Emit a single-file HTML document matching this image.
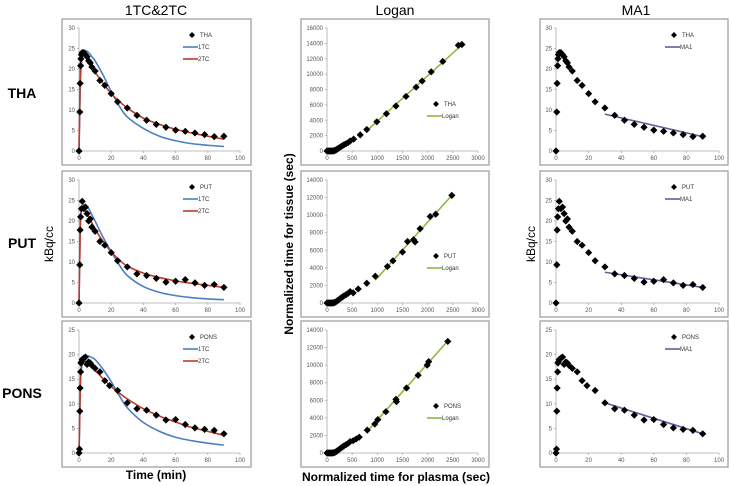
<!DOCTYPE html>
<html><head><meta charset="utf-8"><style>
body{margin:0;background:#fff}
svg{display:block;font-family:"Liberation Sans",sans-serif}
</style></head><body>
<svg id="fig" width="730" height="486" viewBox="0 0 730 486">
<text x="156" y="15" font-size="14" text-anchor="middle">1TC&amp;2TC</text>
<text x="395" y="15" font-size="14" text-anchor="middle">Logan</text>
<text x="636" y="15" font-size="14" text-anchor="middle">MA1</text>
<text x="22" y="98" font-size="14" font-weight="bold" text-anchor="middle">THA</text>
<text x="22" y="248" font-size="14" font-weight="bold" text-anchor="middle">PUT</text>
<text x="22" y="398" font-size="14" font-weight="bold" text-anchor="middle">PONS</text>
<text transform="translate(53,244) rotate(-90)" font-size="12" text-anchor="middle">kBq/cc</text>
<text transform="translate(535,244) rotate(-90)" font-size="12" text-anchor="middle">kBq/cc</text>
<text transform="translate(293,244) rotate(-90)" font-size="12" font-weight="bold" text-anchor="middle">Normalized time for tissue (sec)</text>
<text x="156" y="479" font-size="12" font-weight="bold" text-anchor="middle">Time (min)</text>
<text x="396" y="481" font-size="12" font-weight="bold" text-anchor="middle">Normalized time for plasma (sec)</text>
</svg>
<script>
// ---- data ----
const regions = ["THA","PUT","PONS"];
const timeTicks = [0,20,40,60,80,100];
const loganXTicks = [0,500,1000,1500,2000,2500,3000];
const tacYMax = [30,30,25];
const loganYMax = [16000,14000,14000];

const thaT = [0,0.5,0.7,1,1.2,1.5,2,3,4,5,6,7,8,10,13,16,20,24,30,36,42,48,54,60,66,72,78,84,90];
const thaV = [0,9.5,16.5,20.8,22.5,23.5,24,24,23.5,23,22,21.5,20.5,19.5,17.2,16,14,12,10.5,8.7,7.5,6.5,5.8,5.1,4.8,4.4,4.0,3.5,3.6];
const putT = [0,0.5,0.7,1,1.5,2,3,4,5,6,7,8,10,13,16,20,24,30,36,42,48,54,60,66,72,78,84,90];
const putV = [0,9.3,17.8,21,23,24.8,23,23.4,21.8,20,20.5,18.5,17.5,15,14.1,12.3,10.3,8.8,7.1,6.7,6.0,5.1,5.3,5.7,4.9,4.3,4.5,3.8];
const ponsT = [0,0.3,0.5,0.7,1,1.2,1.5,2,3,4,5,6,7,8,10,13,16,19,24,30,36,42,48,54,60,66,72,78,84,90];
const ponsV = [0,0.8,8.5,13.2,16.5,18.3,18.5,19,19.3,19.5,18,18.5,18.3,17.8,17.2,16.5,14.7,13.7,12.7,10.2,9,8.7,7.7,6.7,6.8,5.8,5.1,4.8,4.6,3.9];

const fitT = [0,0.5,1,2,3,4,6,8,10,15,20,25,30,40,50,60,70,80,90];
const tha1TC = [0,10,18,23,24.3,24.5,24,23,22,18.5,14.5,11,8.3,5.5,3.6,2.5,1.8,1.4,1.1];
const tha2TC = [0,12,22,23.8,24,23.7,22.5,21,19.3,16.5,14,12.1,10.5,8,6.5,5.3,4.4,3.6,2.9];
const put1TC = [0,12,21,23.6,24,23.8,23,21.5,20,16,12.5,9.3,6.7,4,2.6,1.8,1.3,1.0,0.8];
const put2TC = [0,12,21,22.8,23,22.5,21,19.5,18,15,12.5,10.5,9,7.3,6.2,5.4,4.8,4.3,3.8];
const pons1TC = [0,8,15,18.3,19.2,19.6,19.7,19.4,19,17,14.5,11.7,9.2,6.2,4.4,3.2,2.5,2,1.6];
const pons2TC = [0,8,16,18.3,18.7,18.6,18.1,17.5,16.8,15.1,13.5,12.2,11,9,7.5,6.3,5.2,4.4,3.6];

const ma1T = [30,90];
const thaMA1 = [9,3.5];
const putMA1 = [7.5,3.8];
const ponsMA1 = [10.2,3.9];

const earlyX = [0,20,40,60,80,100,120,140,160,180,200,220,250,280,310,340,380,420,460];
const earlyY = [0,0,0,0,0,0,10,30,80,150,230,320,450,580,700,820,950,1100,1300];
const thaLX = [530,660,790,990,1180,1370,1570,1770,1890,2070,2300,2610,2680];
const thaLY = [1550,2100,2800,3800,4850,5850,7100,8300,9100,10300,11650,13750,13850];
const putLX = [520,620,790,960,1200,1310,1500,1600,1720,1750,1850,2050,2160,2480];
const putLY = [1150,1600,2250,3050,4150,4800,5800,7000,7200,6950,8450,9850,10100,12250];
const ponsLX = [520,580,640,800,950,1010,1170,1370,1380,1580,1810,1990,2020,2400];
const ponsLY = [1400,1600,1800,2600,3300,3800,4700,6100,5850,7400,8850,10000,10400,12700];
const thaLine = [[800,2700],[2680,13800]];
const putLine = [[960,2600],[2480,12250]];
const ponsLine = [[820,2600],[2400,12750]];

// ---- drawing ----
const NS="http://www.w3.org/2000/svg", svg=document.getElementById('fig');
const rowTops=[19,171,321];
const cols=[{px:[62,251],x0:79,x1:240},{px:[301,489],x0:327,x1:478},{px:[540,728],x0:556,x1:719}];
function mk(tag,attrs,parent){const e=document.createElementNS(NS,tag);for(const k in attrs)e.setAttribute(k,attrs[k]);(parent||svg).appendChild(e);return e;}
function axes(g,c,top,xmax,ymax,yStep,xTicks){
  const y0=top+132,y1=top+9;
  const sx=v=>c.x0+(v/xmax)*(c.x1-c.x0), sy=v=>y0-(v/ymax)*(y0-y1);
  mk('line',{x1:c.x0,y1:y0,x2:c.x1,y2:y0,stroke:'#aaa','stroke-width':0.8},g);
  mk('line',{x1:c.x0,y1:y0,x2:c.x0,y2:y1,stroke:'#aaa','stroke-width':0.8},g);
  xTicks.forEach(t=>{mk('line',{x1:sx(t),y1:y0,x2:sx(t),y2:y0+2,stroke:'#aaa','stroke-width':0.8},g);
    const tx=mk('text',{x:sx(t),y:y0+9,'font-size':6,'text-anchor':'middle',fill:'#555'},g);tx.textContent=t;});
  for(let v=0;v<=ymax;v+=yStep){mk('line',{x1:c.x0-2,y1:sy(v),x2:c.x0,y2:sy(v),stroke:'#aaa','stroke-width':0.8},g);
    const ty=mk('text',{x:c.x0-4,y:sy(v)+2,'font-size':6,'text-anchor':'end',fill:'#555'},g);ty.textContent=v;}
  return {sx,sy};
}
function pts(g,s,X,Y){X.forEach((x,i)=>{const cx=s.sx(x),cy=s.sy(Y[i]);
  const p=mk('path',{d:`M${cx} ${cy-3.6}L${cx+3.6} ${cy}L${cx} ${cy+3.6}L${cx-3.6} ${cy}Z`,fill:'#000'},g);
  
  });}
function line(g,s,X,Y,col,name){
  const P=X.map((x,i)=>[s.sx(x),s.sy(Y[i])]);
  let d=`M${P[0][0]} ${P[0][1]}`;
  for(let i=0;i<P.length-1;i++){
    const p0=P[Math.max(i-1,0)],p1=P[i],p2=P[i+1],p3=P[Math.min(i+2,P.length-1)];
    const c1=[p1[0]+(p2[0]-p0[0])/6,p1[1]+(p2[1]-p0[1])/6],c2=[p2[0]-(p3[0]-p1[0])/6,p2[1]-(p3[1]-p1[1])/6];
    d+=`C${c1[0]} ${c1[1]} ${c2[0]} ${c2[1]} ${p2[0]} ${p2[1]}`;
  }
  const l=mk('path',{d:d,fill:'none',stroke:col,'stroke-width':1.6},g);
  
  }
function legend(g,lx,ly,name,entries){
  mk('path',{d:`M${lx} ${ly-3}L${lx+3} ${ly}L${lx} ${ly+3}L${lx-3} ${ly}Z`,fill:'#000'},g);
  const t=mk('text',{x:lx+8,y:ly+2,'font-size':6,fill:'#333'},g);t.textContent=name;
  entries.forEach((e,i)=>{const yy=ly+12*(i+1);
    mk('line',{x1:lx-9,y1:yy,x2:lx+6,y2:yy,stroke:e[1],'stroke-width':1.6},g);
    const tt=mk('text',{x:lx+6,y:yy+2,'font-size':6,fill:'#333'},g);tt.textContent=e[0];});
}
const tacT=[thaT,putT,ponsT],tacV=[thaV,putV,ponsV];
const f1=[tha1TC,put1TC,pons1TC],f2=[tha2TC,put2TC,pons2TC],ma=[thaMA1,putMA1,ponsMA1];
const lX=[thaLX,putLX,ponsLX],lY=[thaLY,putLY,ponsLY],lL=[thaLine,putLine,ponsLine];
regions.forEach((reg,r)=>{
  const top=rowTops[r];
  cols.forEach((c,ci)=>{
    const g=mk('g',{});
    
    
    mk('rect',{x:c.px[0],y:top,width:c.px[1]-c.px[0],height:146,fill:'#fff',stroke:'#999','stroke-width':1.2},g);
    if(ci===0){
      const s=axes(g,c,top,100,tacYMax[r],5,timeTicks);
      line(g,s,fitT,f1[r],'#4a7fc1','fit-1tc');
      line(g,s,fitT,f2[r],'#c0392b','fit-2tc');
      pts(g,s,tacT[r],tacV[r]);
      legend(g,192,top+16,reg,[['1TC','#4a7fc1'],['2TC','#c0392b']]);
    }else if(ci===1){
      const s=axes(g,c,top,3000,loganYMax[r],2000,loganXTicks);
      line(g,s,[lL[r][0][0],lL[r][1][0]],[lL[r][0][1],lL[r][1][1]],'#8db93e','logan-fit');
      pts(g,s,earlyX,earlyY);
      pts(g,s,lX[r],lY[r]);
      legend(g,436,top+85,reg,[['Logan','#8db93e']]);
    }else{
      const s=axes(g,c,top,100,tacYMax[r],5,timeTicks);
      line(g,s,ma1T,ma[r],'#6a5a9e','ma1-fit');
      pts(g,s,tacT[r],tacV[r]);
      legend(g,674,top+16,reg,[['MA1','#6a5a9e']]);
    }
  });
});
</script>
</body></html>
